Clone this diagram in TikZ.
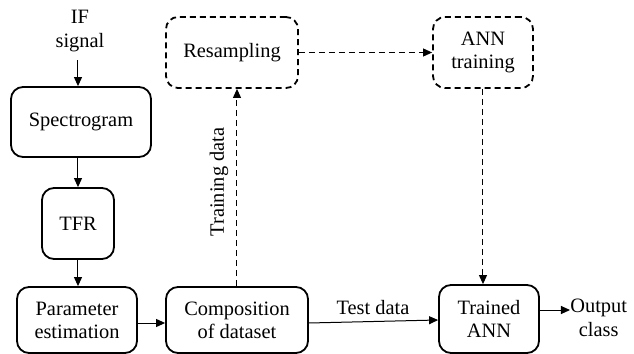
\documentclass[tikz,border=0pt]{standalone}
\usepackage{fontspec}
\setmainfont{Liberation Serif}
\usetikzlibrary{arrows.meta}
\begin{document}
\begin{tikzpicture}[x=0.5pt,y=-0.5pt,
  box/.style={draw,line width=0.9pt,rounded corners=6pt,align=center,inner sep=0pt,
    font=\fontsize{10.2pt}{11.5pt}\selectfont},
  dbox/.style={box,dash pattern=on 3pt off 2pt},
  lbl/.style={align=center,inner sep=0pt,font=\fontsize{10.2pt}{12pt}\selectfont},
  arr/.style={line width=0.5pt,-{Triangle[length=4.5pt,width=4pt]}},
  darr/.style={arr,dash pattern=on 3pt off 2pt}]
\useasboundingbox (0,0) rectangle (634,354);
\node[box,minimum width=70pt,minimum height=35pt] (spec) at (81,122) {Spectrogram};
\node[box,minimum width=36pt,minimum height=35.5pt] (tfr) at (78,223.5) {TFR};
\node[box,minimum width=60pt,minimum height=33pt] (param) at (77,320) {Parameter\\estimation};
\node[box,minimum width=71pt,minimum height=33pt] (comp) at (237,320) {Composition\\of dataset};
\node[dbox,minimum width=66pt,minimum height=35.5pt] (resamp) at (232,52.5) {Resampling};
\node[dbox,minimum width=50pt,minimum height=35.5pt] (anntr) at (483,52.5) {ANN\\training};
\node[box,minimum width=50pt,minimum height=34pt] (trained) at (489,319) {Trained\\ANN};
\node[lbl] (ifsig) at (80,31) {IF\\signal};
\node[lbl,anchor=west] (out) at (570,318) {Output\\class};
\node[lbl,rotate=90] (trlbl) at (219,182) {Training data};
\node[lbl] (testlbl) at (373,308) {Test data};
\coordinate (ifs) at (78,60);
\coordinate (outs) at (539,310);
\draw[arr] (ifs) -- (ifs |- spec.north);
\draw[arr] (tfr.north |- spec.south) -- (tfr.north);
\draw[arr] (tfr.south) -- (tfr.south |- param.north);
\draw[arr] ([yshift=-1.5pt]param.east) -- ([yshift=-1.5pt]comp.west);
\draw[darr] (comp.north) -- (comp.north |- resamp.south);
\draw[darr] (resamp.east) -- (anntr.west);
\draw[darr] (anntr.south) -- (anntr.south |- trained.north);
\draw[arr] ([yshift=-1.5pt]comp.east) -- (comp.east -| trained.west);
\draw[arr] (outs) -- (out.west |- outs);
\end{tikzpicture}
\end{document}
